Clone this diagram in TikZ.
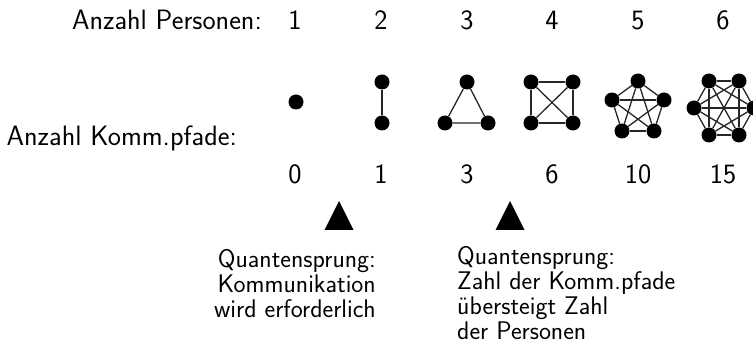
\documentclass[tikz,border=0pt]{standalone}
\begin{document}
\begin{tikzpicture}[x=1pt,y=-1pt,
  lbl/.style={inner sep=0pt,font=\sffamily\fontsize{28}{32}\selectfont},
  note/.style={inner sep=0pt,font=\sffamily\fontsize{25.5}{25}\selectfont},
  person/.style={circle,fill=black,inner sep=0pt,minimum size=15pt},
  path/.style={line width=1.3pt,draw=black!85},
  jump/.style={fill=black}]
\useasboundingbox (0,0) rectangle (753,358);

% row labels
\node[lbl,anchor=base east] (lp) at (262,30) {Anzahl Personen:};
\node[lbl,anchor=base east] (lk) at (237,146) {Anzahl Komm.pfade:};

% number of persons
\foreach \n/\x in {1/295,2/381,3/467,4/552,5/638,6/723}
  \node[lbl,anchor=base] (p\n) at (\x,30) {\n};

% number of communication paths
\foreach \n/\k/\x in {1/0/295,2/1/381,3/3/467,4/6/552,5/10/638,6/15/723}
  \node[lbl,anchor=base] (k\n) at (\x,184) {\k};

% one person
\node[person] (a1) at (296,102) {};

% two persons
\node[person] (b1) at (382,82) {};
\node[person] (b2) at (382,123) {};
\draw[path] (b1) -- (b2);

% three persons
\node[person] (c1) at (467,82) {};
\node[person] (c2) at (445,123) {};
\node[person] (c3) at (488,123) {};
\draw[path] (c1) -- (c2) -- (c3) -- (c1);

% four persons
\node[person] (d1) at (531,82) {};
\node[person] (d2) at (573,82) {};
\node[person] (d3) at (573,123) {};
\node[person] (d4) at (531,123) {};
\foreach \i/\j in {1/2,1/3,1/4,2/3,2/4,3/4}
  \draw[path] (d\i) -- (d\j);

% five persons
\node[person] (e1) at (638,81) {};
\node[person] (e2) at (664,100) {};
\node[person] (e3) at (654,131) {};
\node[person] (e4) at (622,131) {};
\node[person] (e5) at (612,100) {};
\foreach \i/\j in {1/2,1/3,1/4,1/5,2/3,2/4,2/5,3/4,3/5,4/5}
  \draw[path] (e\i) -- (e\j);

% six persons
\node[person] (f1) at (709,81) {};
\node[person] (f2) at (739,81) {};
\node[person] (f3) at (754,108) {};
\node[person] (f4) at (739,135) {};
\node[person] (f5) at (709,135) {};
\node[person] (f6) at (694,108) {};
\foreach \i/\j in {1/2,1/3,1/4,1/5,1/6,2/3,2/4,2/5,2/6,3/4,3/5,3/6,4/5,4/6,5/6}
  \draw[path] (f\i) -- (f\j);

% markers of the two jumps
\fill[jump] (339,201) -- (353.5,230) -- (324.5,230) -- cycle;
\fill[jump] (510,201) -- (524.5,230) -- (495.5,230) -- cycle;

% explanations
\node[note,anchor=north east,align=right] (n1) at (376,249.5)
  {Quantensprung:\\Kommunikation\\wird erforderlich};
\node[note,anchor=north west,align=left] (n2) at (457,246.5)
  {Quantensprung:\\Zahl der Komm.pfade\\übersteigt Zahl\\der Personen};
\end{tikzpicture}
\end{document}
